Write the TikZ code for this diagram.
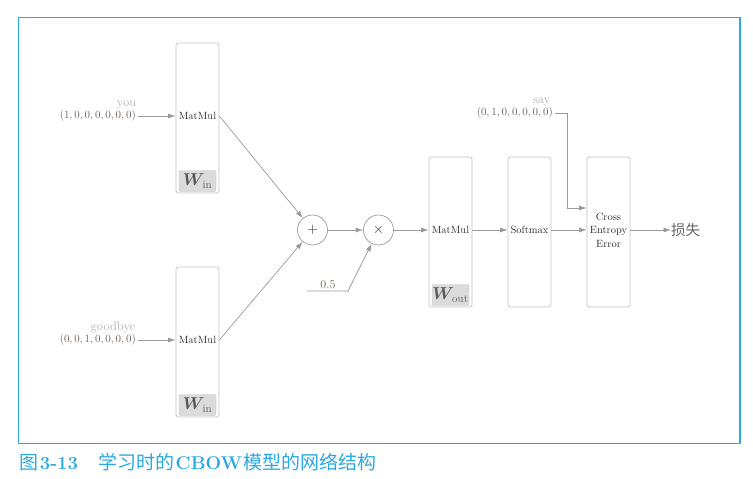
\documentclass[tikz,border=0pt]{standalone}
\usepackage{amsmath}
\usepackage{fontspec}
\newfontfamily\cjk{Noto Sans CJK SC}
\usetikzlibrary{arrows.meta,positioning}
\definecolor{framecyan}{HTML}{29A9E1}
\definecolor{linegray}{HTML}{9A9A9A}
\definecolor{boxgray}{HTML}{C4C4C4}
\definecolor{wordgray}{HTML}{B0B0B0}
\definecolor{vecbrown}{HTML}{6F6258}
\definecolor{txtdark}{HTML}{2E2E2E}
\tikzset{
  layer/.style={draw=boxgray, line width=0.7pt, rounded corners=2.5pt,
    minimum width=43pt, minimum height=150pt, inner sep=0pt},
  laytext/.style={text=txtdark, font=\fontsize{10.5}{13.5}\selectfont, inner sep=0pt},
  wlabel/.style={draw=boxgray, fill=black!14, rounded corners=2pt,
    minimum width=37pt, minimum height=21pt, inner sep=0pt,
    text=black!65, font=\fontsize{16}{18}\selectfont},
  opnode/.style={circle, draw=linegray, line width=0.7pt, minimum size=30pt,
    inner sep=0pt, text=txtdark, font=\fontsize{14}{16}\selectfont},
  conn/.style={draw=linegray, line width=0.7pt, -{Latex[length=7.5pt,width=5pt]}},
  word/.style={text=wordgray, font=\fontsize{12.7}{14}\selectfont, inner sep=0pt},
  vec/.style={text=vecbrown, font=\fontsize{11}{13}\selectfont, inner sep=0pt},
}
\begin{document}
\begin{tikzpicture}[x=1pt,y=-1pt]
\useasboundingbox (0,0) rectangle (753,479);
% outer frame
\draw[framecyan, line width=1.2pt] (18.5,17.5) rectangle (740,443.5);

% input side: two MatMul layers with shared W_in
\node[layer] (mm1) at (197.5,118) {};
\node[laytext] (mm1t) at (197.5,116) {MatMul};
\node[wlabel] (w1) at (197.5,181) {$\boldsymbol{W}_{\!\mathrm{in}}$};

\node[layer] (mm2) at (197.5,342) {};
\node[laytext] (mm2t) at (197.5,340) {MatMul};
\node[wlabel] (w2) at (197.5,405) {$\boldsymbol{W}_{\!\mathrm{in}}$};

\node[vec, anchor=east] (v1) at (136,116) {$(1,0,0,0,0,0,0)$};
\node[word, anchor=base east] (you) at (136.5,106) {you};
\node[vec, anchor=east] (v2) at (136,340) {$(0,0,1,0,0,0,0)$};
\node[word, anchor=base east] (gb) at (135.5,330) {goodbye};

\draw[conn] (v1.east) ++(2pt,0) -- (mm1.west |- v1.east);
\draw[conn] (v2.east) ++(2pt,0) -- (mm2.west |- v2.east);

% sum and scaling
\node[opnode] (plus) at (312.5,230) {$+$};
\node[opnode] (times) at (378.5,230) {$\times$};
\draw[conn] (mm1.east |- mm1t) -- (plus);
\draw[conn] (mm2.east |- mm2t) -- (plus);
\draw[conn] (plus) -- (times);

\coordinate (half) at (307,291);
\coordinate (halfturn) at (348,291);
\node[vec, anchor=south, font=\fontsize{12.5}{14}\selectfont] (hlab) at (328,288.5) {$0.5$};
\draw[conn] (half) -- (halfturn) -- (times);

% output side
\node[layer] (mm3) at (450.5,232) {};
\node[laytext] (mm3t) at (450.5,230) {MatMul};
\node[wlabel] (w3) at (450.5,295) {$\boldsymbol{W}_{\!\mathrm{out}}$};

\node[layer] (sm) at (529.5,232) {};
\node[laytext] (smt) at (529.5,230) {Softmax};

\node[layer] (cee) at (608.5,232) {};
\node[laytext, align=center] (ceet) at (608.5,230) {Cross\\Entropy\\Error};

\draw[conn] (times) -- (mm3.west |- times);
\draw[conn] (mm3.east |- mm3t) -- (sm.west |- mm3t);
\draw[conn] (sm.east |- smt) -- (cee.west |- smt);

\node[text=black!60, font=\cjk\fontsize{14.5}{16}\selectfont, anchor=west, inner sep=0pt] (loss) at (671,230) {损失};
\draw[conn] (cee.east |- ceet) -- (loss.west);

% teacher label
\node[vec, anchor=east] (v3) at (553,113) {$(0,1,0,0,0,0,0)$};
\node[word, anchor=base east] (say) at (550.5,103) {say};
\coordinate (sayturn) at (567,113);
\draw[conn] (v3.east) ++(2pt,0) -- (sayturn) |- ([yshift=24pt]cee.west);

% caption
\node[anchor=west, text=framecyan, inner sep=0pt] (cap) at (19,462)
  {{\cjk\fontsize{19}{21}\selectfont 图}\,{\fontsize{18.5}{21}\selectfont\bfseries 3-13}\hspace{20pt}{\cjk\fontsize{19}{21}\selectfont 学习时的}\,{\fontsize{18.5}{21}\selectfont\bfseries CBOW}\,{\cjk\fontsize{19}{21}\selectfont 模型的网络结构}};
\end{tikzpicture}
\end{document}
